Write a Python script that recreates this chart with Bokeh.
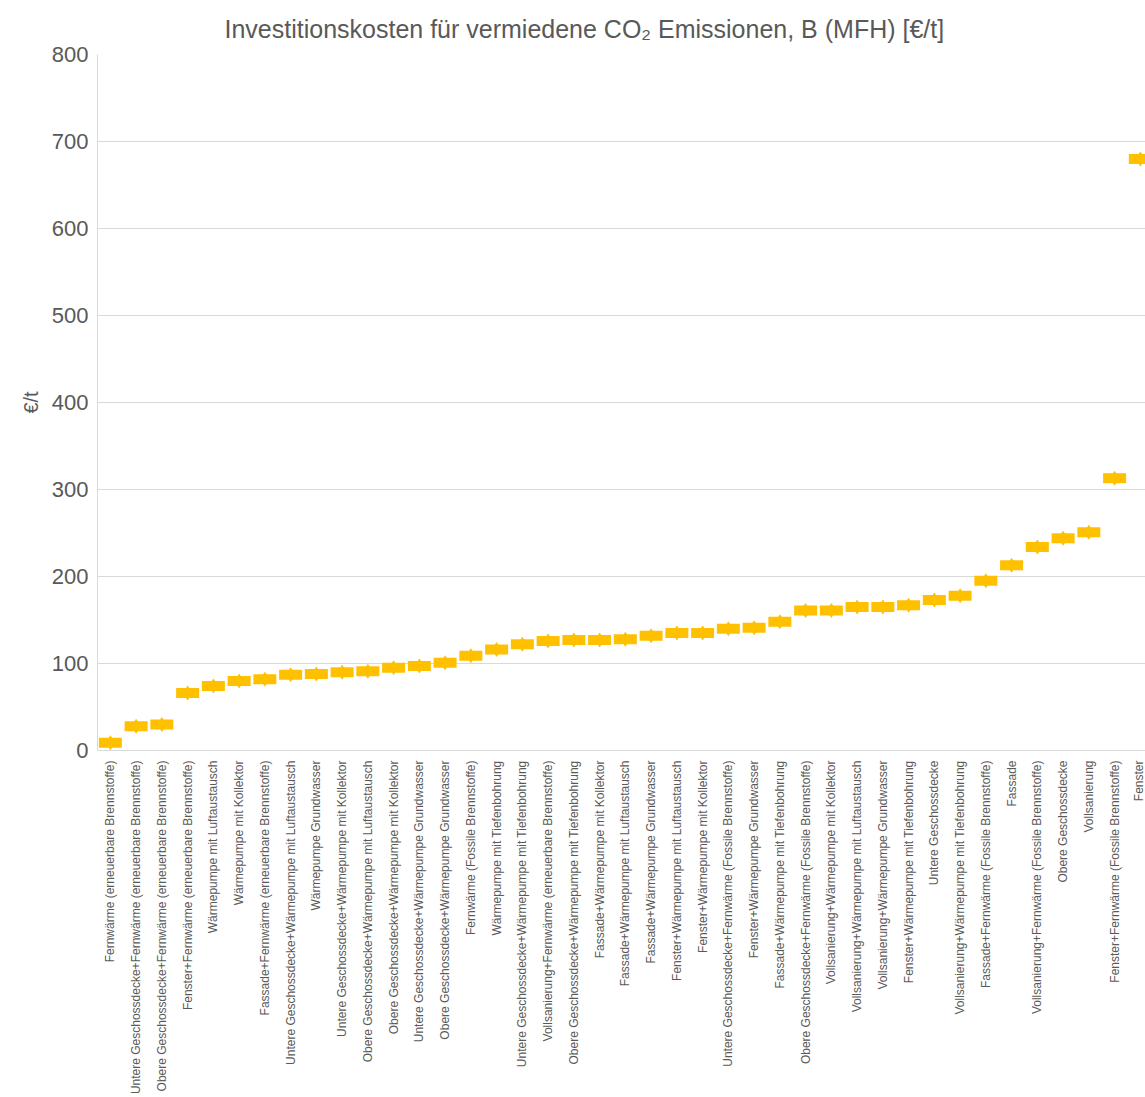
import math
from bokeh.plotting import figure
from bokeh.models import Range1d, FixedTicker, ColumnDataSource
from bokeh.embed import file_html
from bokeh.resources import INLINE

categories = [
    "Fernwärme (erneuerbare Brennstoffe)",
    "Untere Geschossdecke+Fernwärme (erneuerbare Brennstoffe)",
    "Obere Geschossdecke+Fernwärme (erneuerbare Brennstoffe)",
    "Fenster+Fernwärme (erneuerbare Brennstoffe)",
    "Wärmepumpe mit Luftaustausch",
    "Wärmepumpe mit Kollektor",
    "Fassade+Fernwärme (erneuerbare Brennstoffe)",
    "Untere Geschossdecke+Wärmepumpe mit Luftaustausch",
    "Wärmepumpe Grundwasser",
    "Untere Geschossdecke+Wärmepumpe mit Kollektor",
    "Obere Geschossdecke+Wärmepumpe mit Luftaustausch",
    "Obere Geschossdecke+Wärmepumpe mit Kollektor",
    "Untere Geschossdecke+Wärmepumpe Grundwasser",
    "Obere Geschossdecke+Wärmepumpe Grundwasser",
    "Fernwärme (Fossile Brennstoffe)",
    "Wärmepumpe mit Tiefenbohrung",
    "Untere Geschossdecke+Wärmepumpe mit Tiefenbohrung",
    "Vollsanierung+Fernwärme (erneuerbare Brennstoffe)",
    "Obere Geschossdecke+Wärmepumpe mit Tiefenbohrung",
    "Fassade+Wärmepumpe mit Kollektor",
    "Fassade+Wärmepumpe mit Luftaustausch",
    "Fassade+Wärmepumpe Grundwasser",
    "Fenster+Wärmepumpe mit Luftaustausch",
    "Fenster+Wärmepumpe mit Kollektor",
    "Untere Geschossdecke+Fernwärme (Fossile Brennstoffe)",
    "Fenster+Wärmepumpe Grundwasser",
    "Fassade+Wärmepumpe mit Tiefenbohrung",
    "Obere Geschossdecke+Fernwärme (Fossile Brennstoffe)",
    "Vollsanierung+Wärmepumpe mit Kollektor",
    "Vollsanierung+Wärmepumpe mit Luftaustausch",
    "Vollsanierung+Wärmepumpe Grundwasser",
    "Fenster+Wärmepumpe mit Tiefenbohrung",
    "Untere Geschossdecke",
    "Vollsanierung+Wärmepumpe mit Tiefenbohrung",
    "Fassade+Fernwärme (Fossile Brennstoffe)",
    "Fassade",
    "Vollsanierung+Fernwärme (Fossile Brennstoffe)",
    "Obere Geschossdecke",
    "Vollsanierung",
    "Fenster+Fernwärme (Fossile Brennstoffe)",
    "Fenster",
]

values = [
    9, 28, 30, 66, 74, 80, 82, 87, 88, 90, 91, 95, 97, 101,
    109, 116, 122, 126, 127, 127, 128, 132, 135, 135, 140, 141, 148,
    161, 161, 165, 165, 167, 173, 178, 195, 213, 234, 244, 251, 313, 680,
]

y_ticks = [0, 100, 200, 300, 400, 500, 600, 700, 800]

xs = list(range(len(categories)))
src = ColumnDataSource(dict(x=xs, y=values))

TEXT = "#595959"
GRID = "#D9D9D9"
GOLD = "#FFC000"
FONT = "Liberation Sans"

p = figure(
    frame_width=1048, frame_height=696,
    output_backend="svg", toolbar_location=None,
    x_range=Range1d(-0.5, 40.2), y_range=Range1d(0, 800),
    min_border_left=97, min_border_right=0, min_border_top=54,
    min_border_bottom=345,
)

p.title.text = "Investitionskosten für vermiedene CO\u2082 Emissionen, B (MFH) [€/t]"
p.title.text_font = FONT
p.title.text_font_size = "25px"
p.title.text_font_style = "normal"
p.title.text_color = TEXT
p.title.align = "left"
p.title.offset = 127
p.title.standoff = 20
p.title.vertical_align = "top"
p.title.text_line_height = 0.8

p.outline_line_color = None
p.background_fill_color = "white"
p.border_fill_color = "white"

# markers: bar-like rect with diamond
p.rect(x="x", y="y", width=23, height=10, width_units="screen", height_units="screen",
       source=src, fill_color=GOLD, line_color=None)
p.scatter(x="x", y="y", marker="diamond", size=15, source=src,
          fill_color=GOLD, line_color=None)

# x axis
p.xaxis.ticker = FixedTicker(ticks=xs)
p.xaxis.major_label_overrides = {i: c for i, c in enumerate(categories)}
p.xaxis.major_label_orientation = math.pi / 2
p.xaxis.major_label_text_font = FONT
p.xaxis.major_label_text_font_size = "12px"
p.xaxis.major_label_text_color = TEXT
p.xaxis.major_label_standoff = 10
p.xaxis.major_tick_line_color = None
p.xaxis.major_tick_out = 0
p.xaxis.major_tick_in = 0
p.xaxis.minor_tick_line_color = None
p.xaxis.minor_tick_out = 0
p.xaxis.axis_line_color = GRID
p.xgrid.grid_line_color = None

# y axis
p.yaxis.ticker = FixedTicker(ticks=y_ticks)
p.yaxis.major_label_text_font = FONT
p.yaxis.major_label_text_font_size = "22px"
p.yaxis.major_label_text_color = TEXT
p.yaxis.major_label_standoff = 9
p.yaxis.major_tick_line_color = None
p.yaxis.major_tick_out = 0
p.yaxis.major_tick_in = 0
p.yaxis.minor_tick_line_color = None
p.yaxis.minor_tick_out = 0
p.yaxis.axis_line_color = GRID
p.yaxis.axis_label = "€/t"
p.yaxis.axis_label_text_font = FONT
p.yaxis.axis_label_text_font_size = "20px"
p.yaxis.axis_label_text_font_style = "normal"
p.yaxis.axis_label_text_color = TEXT
p.yaxis.axis_label_standoff = 7
p.ygrid.grid_line_color = GRID
p.ygrid.ticker = FixedTicker(ticks=y_ticks)

open("out.html", "w").write(file_html(p, INLINE))
